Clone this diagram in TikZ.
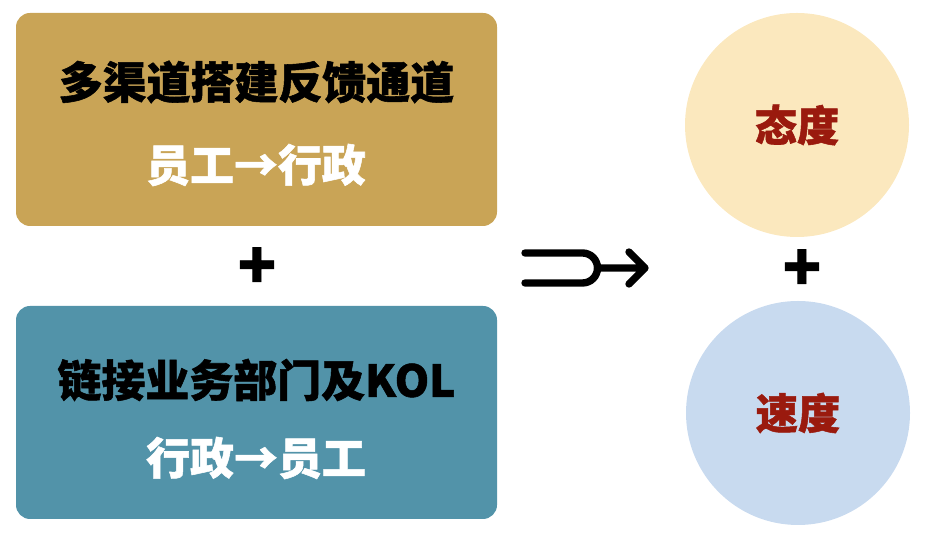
\documentclass[tikz,border=0pt]{standalone}
\usepackage{fontspec}
\newfontfamily\cjk{Noto Sans CJK SC}[BoldFeatures={FakeBold=1.2}]
\usetikzlibrary{positioning,arrows.meta}

\definecolor{goldbox}{HTML}{C9A456}
\definecolor{tealbox}{HTML}{5293A9}
\definecolor{creamdot}{HTML}{FBE8BE}
\definecolor{bluedot}{HTML}{C8DAEF}
\definecolor{darkred}{HTML}{9A1A0E}

\begin{document}
\begin{tikzpicture}[
  panel/.style={rounded corners=8pt, minimum width=9.62cm, minimum height=4.26cm, inner sep=0pt},
  title/.style={font=\cjk\bfseries\fontsize{25}{25}\selectfont, text=black, inner sep=0pt},
  flow/.style={font=\cjk\bfseries\fontsize{25}{25}\selectfont, text=white, inner sep=0pt},
  dot/.style={circle, minimum size=4.48cm, inner sep=0pt},
  dotlab/.style={font=\cjk\bfseries\fontsize{24}{24}\selectfont, text=darkred},
  plus/.style={font=\cjk\bfseries\fontsize{36}{36}\selectfont, inner sep=0pt}]
\useasboundingbox (0,0) rectangle (19,10.78);
% left column
\node[panel, fill=goldbox] (top) at (5.13,8.39) {};
\node[title] (toptitle) at (5.13,9.14) {多渠道搭建反馈通道};
\node[flow] (topflow) at (5.12,7.48) {员工→行政};
\node[plus] (lplus) at (5.14,5.42) {+};
\node[panel, fill=tealbox] (bot) at (5.13,2.53) {};
\node[title] (bottitle) at (5.13,3.18) {链接业务部门及KOL};
\node[flow] (botflow) at (5.12,1.62) {行政→员工};
% right column
\node[dot, fill=creamdot] (att) at (15.94,8.28) {};
\node[dotlab] at (att) {态度};
\node[plus] (rplus) at (16.04,5.38) {+};
\node[dot, fill=bluedot] (spd) at (15.96,2.52) {};
\node[dotlab] at (spd) {速度};
% merge arrow
\coordinate (mtop) at (10.5,5.72);
\coordinate (mbot) at (10.5,5.12);
\coordinate (mtip) at (12.9,5.42);
\draw[line width=4.2pt, line cap=round, line join=round]
  (mtop) -- ++(1.15,0) arc[start angle=90, end angle=-90, radius=0.3] -- (mbot);
\draw[line width=4.2pt, line cap=round, line join=round]
  (11.95,5.42) -- (mtip) ++(-0.32,0.32) -- (mtip) -- ++(-0.32,-0.32);
\end{tikzpicture}
\end{document}
